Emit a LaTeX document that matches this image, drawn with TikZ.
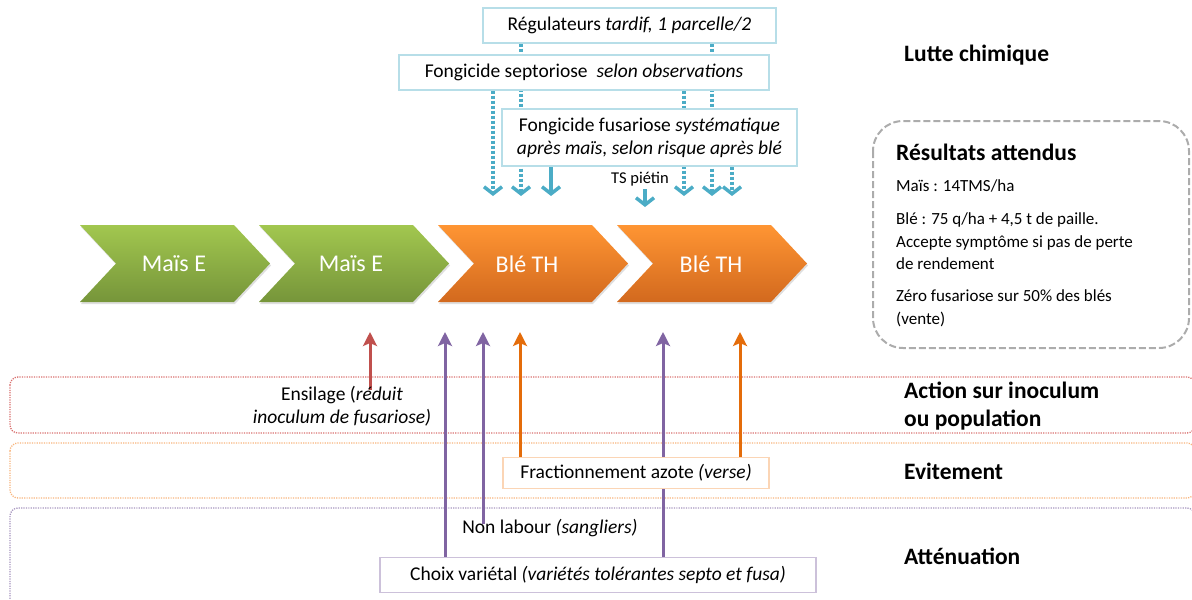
\documentclass[tikz,border=0pt]{standalone}
\usepackage{fontspec}
\setmainfont{Carlito}
\usetikzlibrary{arrows.meta,shadows}
\pgfdeclarelayer{bg}
\pgfsetlayers{bg,main}
\definecolor{cyanA}{HTML}{4BACC6}
\definecolor{redA}{HTML}{C0504D}
\definecolor{purpA}{HTML}{8064A2}
\definecolor{orgA}{HTML}{E46C0A}
\definecolor{boxblue}{HTML}{B7DEE8}
\definecolor{boxorg}{HTML}{FBD5B5}
\definecolor{boxpurp}{HTML}{CCC1DA}
\definecolor{bandred}{HTML}{D9706E}
\definecolor{bandorg}{HTML}{F8B47C}
\definecolor{bandpurp}{HTML}{A695BE}
\definecolor{greenT}{HTML}{A2C74F}
\definecolor{greenB}{HTML}{76953A}
\definecolor{orgT}{HTML}{FF9533}
\definecolor{orgB}{HTML}{D2691E}
\begin{document}
\begin{tikzpicture}[x=1pt,y=-1pt,
  txt/.style={font=\fontsize{19.5}{23}\selectfont, inner sep=0pt},
  labelbox/.style={txt, draw=#1, line width=1.2pt, fill=white},
  lab/.style={font=\fontsize{23.5}{28}\selectfont\bfseries, anchor=west, align=left, inner sep=0pt},
  restxt/.style={font=\fontsize{17}{22.5}\selectfont, anchor=west, align=left, inner sep=0pt},
  chevtxt/.style={font=\fontsize{24}{28}\selectfont, text=white, inner sep=0pt},
  chevgreen/.style={top color=greenT, bottom color=greenB, draw=none, drop shadow={opacity=0.25,shadow xshift=1pt,shadow yshift=-2pt}},
  chevorange/.style={top color=orgT, bottom color=orgB, draw=none, drop shadow={opacity=0.25,shadow xshift=1pt,shadow yshift=-2pt}},
  dotarrow/.style={cyanA, line width=3.5pt, dash pattern=on 3pt off 2pt, -{Straight Barb[length=7pt,width=18pt,line width=3.5pt]}},
  solarrow/.style={cyanA, line width=3.5pt, -{Straight Barb[length=7pt,width=18pt,line width=3.5pt]}},
  uparrow/.style={#1, line width=3pt, -{Stealth[length=14pt,width=14pt,inset=3pt]}},
  band/.style={draw=#1, line width=1.3pt, dash pattern=on 1.2pt off 1.2pt, rounded corners=8pt}
]
\useasboundingbox (0,0) rectangle (1192,600);

% chevrons
\foreach \s/\st in {80/chevgreen,259/chevgreen,438/chevorange,617/chevorange}{
  \path[\st] (\s,225) -- (\s+154,225) -- (\s+190,263.5) -- (\s+154,302) -- (\s,302) -- (\s+36,263.5) -- cycle;
}
\node[chevtxt] (c1) at (174,264) {Maïs E};
\node[chevtxt] (c2) at (351,264) {Maïs E};
\node[chevtxt] (c3) at (527,264) {Blé TH};
\node[chevtxt] (c4) at (711,264) {Blé TH};

% top boxes
\node[labelbox=boxblue, minimum width=293pt, minimum height=35pt] (reg) at (629.5,25.5) {Régulateurs \textit{tardif, 1 parcelle/2}};
\node[labelbox=boxblue, minimum width=370pt, minimum height=35pt] (sept) at (584,72.5) {Fongicide septoriose \ \textit{selon observations}};
\node[labelbox=boxblue, minimum width=295pt, minimum height=57pt, align=center] (fus) at (649.5,137.5) {Fongicide fusariose \textit{systématique}\\\textit{après maïs, selon risque après blé}};
\node[font=\fontsize{16.5}{18}\selectfont, inner sep=0pt] (ts) at (640,179) {TS piétin};

% down arrow tips
\coordinate (d1) at (493,196);
\coordinate (d2) at (521,196);
\coordinate (d3) at (551,196);
\coordinate (d4) at (645,207);
\coordinate (d5) at (684,196);
\coordinate (d6) at (712,196);
\coordinate (d7) at (732,196);

% right labels
\node[lab] (lc) at (904,55) {Lutte chimique};
\node[lab] (asi) at (904,406) {Action sur inoculum\\ou population};
\node[lab] (evi) at (904,471) {Evitement};
\node[lab] (att) at (904,556) {Atténuation};

% results
\draw[gray!65, line width=2pt, dash pattern=on 7pt off 3pt, rounded corners=30pt] (873,121) rectangle (1189,348);
\node[lab] (rt) at (896,152) {Résultats attendus};
\node[restxt] (r1) at (896,186) {Maïs : 14TMS/ha};
\node[restxt] (r2) at (896,241.5) {Blé : 75 q/ha + 4,5 t de paille.\\Accepte symptôme si pas de perte\\de rendement};
\node[restxt] (r3) at (896,308.5) {Zéro fusariose sur 50\% des blés\\(vente)};

% bottom labels
\node[txt, align=center] (ens) at (342,406.5) {Ensilage (\textit{réduit}\\\textit{inoculum de fusariose)}};
\node[labelbox=boxorg, minimum width=266pt, minimum height=31pt] (frac) at (636,473) {Fractionnement azote \textit{(verse)}};
\node[txt] (nl) at (550,528) {Non labour \textit{(sangliers)}};
\node[labelbox=boxpurp, minimum width=436pt, minimum height=35pt] (choix) at (598,575) {Choix variétal \textit{(variétés tolérantes septo et fusa)}};

% up arrow tips
\coordinate (u1) at (370,332);
\coordinate (u2) at (445,332);
\coordinate (u3) at (483,332);
\coordinate (u4) at (520,332);
\coordinate (u5) at (663,332);
\coordinate (u6) at (740,332);

\begin{pgfonlayer}{bg}
  \draw[band=bandred] (10,377) rectangle (1195,433);
  \draw[band=bandorg] (10,443) rectangle (1195,498);
  \draw[band=bandpurp] (10,508) rectangle (1195,620);
  \draw[dotarrow] (sept.south -| d1) -- (d1);
  \draw[dotarrow] (reg.south -| d2) -- (d2);
  \draw[solarrow] (fus.south -| d3) -- (d3);
  \draw[solarrow] ([yshift=-3pt]ts.south -| d4) -- (d4);
  \draw[dotarrow] (sept.south -| d5) -- (d5);
  \draw[dotarrow] (reg.south -| d6) -- (d6);
  \draw[dotarrow] (fus.south -| d7) -- (d7);
  \draw[uparrow=redA] ([yshift=-4pt]ens.north -| u1) -- (u1);
  \draw[uparrow=purpA] (choix.north -| u2) -- (u2);
  \draw[uparrow=purpA] ([yshift=-5pt]nl.north -| u3) -- (u3);
  \draw[uparrow=orgA] (frac.north -| u4) -- (u4);
  \draw[uparrow=purpA] (choix.north -| u5) -- (u5);
  \draw[uparrow=orgA] (frac.north -| u6) -- (u6);
\end{pgfonlayer}
\end{tikzpicture}
\end{document}
